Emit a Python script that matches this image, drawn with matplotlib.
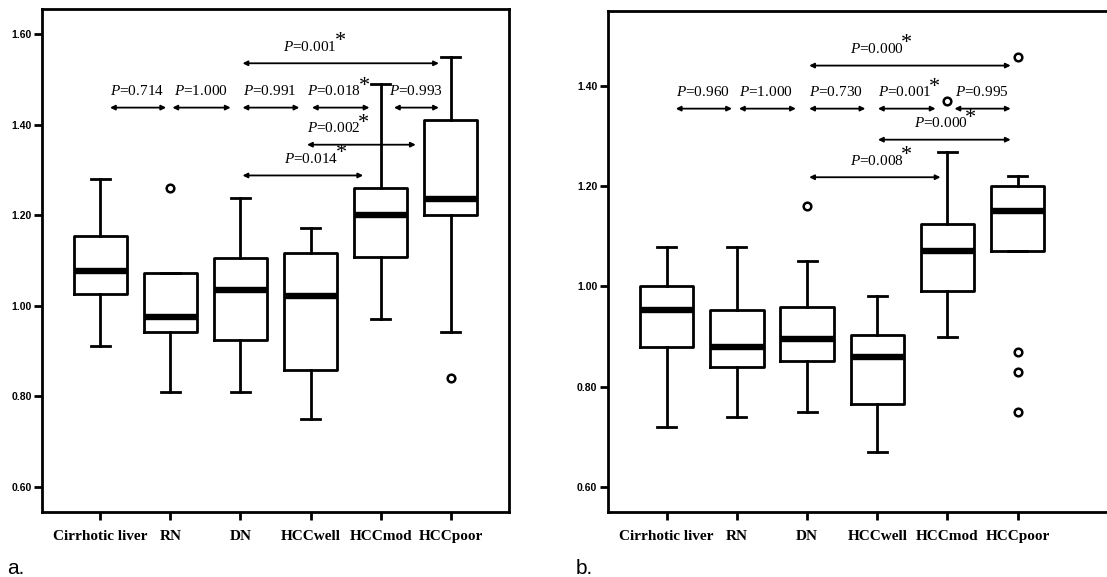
import matplotlib
matplotlib.use("Agg")
import matplotlib.pyplot as plt

plt.rcParams['mathtext.fontset'] = 'custom'
plt.rcParams['mathtext.rm'] = 'Liberation Serif'
plt.rcParams['mathtext.it'] = 'Liberation Serif:italic'

categories = ["Cirrhotic liver", "RN", "DN", "HCCwell", "HCCmod", "HCCpoor"]

# ---- Panel a data (box statistics) ----
a_whislo = [0.910, 0.810, 0.810, 0.750, 0.971, 0.941]
a_q1     = [1.027, 0.943, 0.925, 0.859, 1.107, 1.200]
a_med    = [1.076, 0.974, 1.035, 1.021, 1.200, 1.236]
a_q3     = [1.155, 1.072, 1.105, 1.116, 1.260, 1.410]
a_whishi = [1.281, 1.072, 1.239, 1.171, 1.490, 1.549]
a_fliers = [[], [1.26], [], [], [], [0.84]]
a_yticks = [0.60, 0.80, 1.00, 1.20, 1.40, 1.60]

# comparisons panel a
a_p_text = ["0.714", "1.000", "0.991", "0.018", "0.993", "0.001", "0.002", "0.014"]
a_p_sig  = [False, False, False, True, False, True, True, True]
a_p_x1   = [1.14, 2.03, 3.03, 4.02, 5.19, 3.03, 3.95, 3.03]
a_p_x2   = [1.94, 2.86, 3.84, 4.84, 5.83, 5.83, 5.50, 4.75]
a_p_y    = [1.438, 1.438, 1.438, 1.438, 1.438, 1.536, 1.356, 1.288]
a_p_tx   = [1.52, 2.43, 3.42, 4.33, 5.50, 3.99, 4.33, 4.00]

# ---- Panel b data ----
b_whislo = [0.719, 0.740, 0.749, 0.669, 0.899, 1.070]
b_q1     = [0.878, 0.839, 0.850, 0.765, 0.991, 1.070]
b_med    = [0.953, 0.878, 0.894, 0.859, 1.070, 1.150]
b_q3     = [1.000, 0.953, 0.958, 0.902, 1.125, 1.200]
b_whishi = [1.079, 1.079, 1.050, 0.980, 1.268, 1.220]
b_fliers = [[], [], [1.16], [], [1.371], [1.459, 0.869, 0.829, 0.749]]
b_yticks = [0.60, 0.80, 1.00, 1.20, 1.40]

b_p_text = ["0.960", "1.000", "0.730", "0.001", "0.995", "0.000", "0.000", "0.008"]
b_p_sig  = [False, False, False, True, False, True, True, True]
b_p_x1   = [1.13, 2.03, 3.03, 4.01, 5.10, 3.03, 4.01, 3.03]
b_p_x2   = [1.93, 2.84, 3.83, 4.83, 5.90, 5.90, 5.90, 4.90]
b_p_y    = [1.355, 1.355, 1.355, 1.355, 1.355, 1.441, 1.293, 1.218]
b_p_tx   = [1.52, 2.42, 3.41, 4.39, 5.49, 3.99, 4.90, 3.99]

W, H = 1107, 577
fig = plt.figure(figsize=(W / 100, H / 100), dpi=100)

ax_a = fig.add_axes([42 / W, 1 - 512 / H, (509 - 42) / W, (512 - 9) / H])
ax_b = fig.add_axes([607.7 / W, 1 - 511.7 / H, (1112 - 607.7) / W, (511.7 - 11) / H])


def draw_panel(ax, whislo, q1, med, q3, whishi, fliers, yticks, ylim, xlim,
               p_text, p_sig, p_x1, p_x2, p_y, p_tx):
    stats = []
    for i in range(len(categories)):
        stats.append(dict(whislo=whislo[i], q1=q1[i], med=med[i], q3=q3[i],
                          whishi=whishi[i], fliers=fliers[i], label=categories[i]))
    lw = 2.0
    ax.bxp(stats, positions=range(1, len(categories) + 1), widths=0.76,
           capwidths=0.27,
           boxprops=dict(color='black', linewidth=lw),
           whiskerprops=dict(color='black', linewidth=lw),
           capprops=dict(color='black', linewidth=lw),
           medianprops=dict(color='black', linewidth=4.6, solid_capstyle='butt'),
           flierprops=dict(marker='o', markerfacecolor='white', markeredgecolor='black',
                           markersize=5.5, markeredgewidth=1.8))
    ax.set_xlim(*xlim)
    ax.set_ylim(*ylim)
    ax.set_yticks(yticks)
    ax.set_yticklabels([f"{t:.2f}" for t in yticks],
                       fontfamily='Liberation Sans', fontweight='bold', fontsize=7.5)
    ax.set_xticks(range(1, len(categories) + 1))
    ax.set_xticklabels(categories, fontfamily='Liberation Serif', fontweight='bold',
                       fontsize=11)
    ax.tick_params(axis='y', length=6, width=2, pad=1.5, direction='out')
    ax.tick_params(axis='x', length=6, width=2, pad=7, direction='out')
    for s in ax.spines.values():
        s.set_linewidth(2.0)

    for t, sig, x1, x2, y, tx in zip(p_text, p_sig, p_x1, p_x2, p_y, p_tx):
        ax.annotate('', xy=(x2, y), xytext=(x1, y),
                    arrowprops=dict(arrowstyle='<|-|>', mutation_scale=7,
                                    lw=1.3, color='black', shrinkA=0, shrinkB=0))
        txt = ax.annotate(r'$\mathit{P}$=' + t, xy=(tx, y), xytext=(0, 12),
                          textcoords='offset points', ha='center', va='center',
                          fontfamily='Liberation Serif', fontsize=11)
        if sig:
            ax.annotate('*', xy=(1, 1), xycoords=txt, xytext=(2.5, -1.5),
                        textcoords='offset points', ha='center', va='center',
                        fontfamily='Liberation Serif', fontsize=16)


draw_panel(ax_a, a_whislo, a_q1, a_med, a_q3, a_whishi, a_fliers, a_yticks,
           (0.544, 1.656), (0.17, 6.83),
           a_p_text, a_p_sig, a_p_x1, a_p_x2, a_p_y, a_p_tx)
draw_panel(ax_b, b_whislo, b_q1, b_med, b_q3, b_whishi, b_fliers, b_yticks,
           (0.55, 1.55), (0.16, 6 + (1112 - 1017.7) / 70.2),
           b_p_text, b_p_sig, b_p_x1, b_p_x2, b_p_y, b_p_tx)

fig.text(7 / W, 1 - 568 / H, 'a.', fontfamily='Liberation Sans', fontsize=15,
         ha='left', va='center')
fig.text(576 / W, 1 - 568 / H, 'b.', fontfamily='Liberation Sans', fontsize=15,
         ha='left', va='center')

fig.savefig('out.png', dpi=100)
